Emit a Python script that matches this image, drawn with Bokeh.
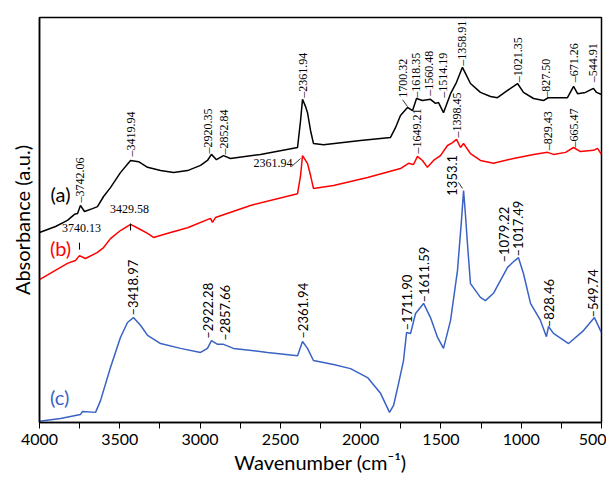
import numpy as np
from bokeh.plotting import figure
from bokeh.models import FixedTicker
from bokeh.core.properties import value
from bokeh.embed import file_html
from bokeh.resources import INLINE

# ---- spectra (wavenumber cm-1, absorbance a.u.) ----
wn_a = [4000, 3900, 3826, 3782, 3763, 3745, 3720, 3670, 3639, 3601, 3558, 3496, 3433, 3383, 3327,
        3246, 3165, 3078, 2997, 2954, 2929, 2898, 2854, 2811, 2624, 2393, 2374, 2362, 2343, 2331,
        2312, 2294, 2231, 2001, 1814, 1783, 1752, 1708, 1677, 1652, 1615, 1565, 1534, 1515, 1484,
        1440, 1403, 1366, 1341, 1316, 1254, 1191, 1148, 1085, 1023, 986, 923, 861, 830, 755, 712,
        674, 649, 600, 550, 531, 500]
abs_a = [0.469, 0.484, 0.499, 0.514, 0.516, 0.536, 0.521, 0.528, 0.533, 0.558, 0.580, 0.617, 0.647,
         0.644, 0.630, 0.622, 0.617, 0.622, 0.635, 0.647, 0.662, 0.649, 0.659, 0.652, 0.662, 0.679,
         0.746, 0.798, 0.780, 0.765, 0.721, 0.689, 0.686, 0.696, 0.704, 0.728, 0.758, 0.778, 0.770,
         0.800, 0.795, 0.798, 0.788, 0.790, 0.765, 0.812, 0.840, 0.877, 0.857, 0.837, 0.815, 0.805,
         0.802, 0.820, 0.837, 0.815, 0.800, 0.795, 0.802, 0.802, 0.802, 0.830, 0.812, 0.815, 0.825,
         0.815, 0.810]

wn_b = [4000, 3826, 3776, 3751, 3714, 3639, 3601, 3558, 3496, 3433, 3383, 3327, 3290, 3184, 3078,
        2935, 2923, 2904, 2686, 2393, 2374, 2362, 2343, 2331, 2312, 2294, 2169, 1957, 1752, 1702,
        1671, 1646, 1615, 1584, 1546, 1503, 1459, 1428, 1403, 1378, 1359, 1316, 1254, 1173, 1048,
        923, 836, 799, 724, 674, 631, 550, 525, 500]
abs_b = [0.353, 0.393, 0.400, 0.412, 0.405, 0.420, 0.432, 0.454, 0.474, 0.489, 0.479, 0.467, 0.457,
         0.469, 0.481, 0.504, 0.494, 0.506, 0.536, 0.565, 0.610, 0.659, 0.647, 0.640, 0.610, 0.578,
         0.585, 0.605, 0.627, 0.640, 0.637, 0.657, 0.647, 0.630, 0.647, 0.659, 0.684, 0.691, 0.699,
         0.679, 0.689, 0.664, 0.647, 0.640, 0.652, 0.662, 0.667, 0.662, 0.667, 0.679, 0.669, 0.672,
         0.677, 0.662]

wn_c = [4000, 3869, 3745, 3732, 3651, 3620, 3558, 3496, 3452, 3415, 3371, 3327, 3246, 3122, 2997,
        2954, 2929, 2891, 2854, 2792, 2580, 2393, 2362, 2331, 2294, 2169, 2063, 1957, 1876, 1820,
        1795, 1764, 1733, 1714, 1689, 1658, 1608, 1565, 1521, 1484, 1440, 1397, 1372, 1359, 1347,
        1334, 1316, 1254, 1223, 1173, 1085, 1054, 1017, 986, 942, 880, 843, 830, 799, 705, 612,
        544, 500]
abs_c = [0.003, 0.010, 0.020, 0.027, 0.025, 0.054, 0.136, 0.210, 0.247, 0.259, 0.240, 0.215, 0.195,
         0.183, 0.173, 0.183, 0.202, 0.193, 0.193, 0.183, 0.173, 0.165, 0.200, 0.183, 0.153, 0.143,
         0.133, 0.111, 0.072, 0.025, 0.042, 0.096, 0.153, 0.222, 0.220, 0.269, 0.294, 0.259, 0.210,
         0.183, 0.252, 0.375, 0.499, 0.573, 0.511, 0.437, 0.343, 0.309, 0.301, 0.319, 0.383, 0.395,
         0.407, 0.368, 0.294, 0.252, 0.212, 0.237, 0.220, 0.195, 0.227, 0.259, 0.222]

# ---- peak labels ----
lab_a_text = ["3742.06", "3419.94", "2920.35", "2852.84", "2361.94", "1618.35", "1560.48",
              "1514.19", "1358.91", "1021.35", "827.50", "671.26", "544.91"]
lab_a_x = [3745, 3433, 2948, 2848, 2362, 1658, 1577, 1490, 1366, 1023, 843, 674, 550]
lab_a_y = [0.543, 0.657, 0.664, 0.662, 0.802, 0.802, 0.807, 0.802, 0.881, 0.840, 0.802, 0.840, 0.840]
lab_a_slant = ["1700.32"]
lab_a_slant_x = [1739]
lab_a_slant_y = [0.802]

lab_b_text = ["1649.21", "1398.45", "829.43", "665.47"]
lab_b_x = [1646, 1403, 836, 674]
lab_b_y = [0.664, 0.704, 0.672, 0.679]
lab_bh_text = ["3740.13", "3429.58"]
lab_bh_x = [3738, 3439]
lab_bh_y = [0.481, 0.528]
lab_bs_text = ["2361.94"]
lab_bs_x = [2424]
lab_bs_y = [0.640]

lab_c_text = ["3418.97", "2922.28", "2857.66", "2361.94", "1711.90", "1611.59", "1079.22",
              "1017.49", "828.46", "549.74"]
lab_c_x = [3415, 2948, 2842, 2362, 1714, 1608, 1110, 1023, 824, 556]
lab_c_y = [0.264, 0.207, 0.202, 0.207, 0.227, 0.296, 0.395, 0.410, 0.235, 0.259]
lab_cs_text = ["1353.1"]
lab_cs_x = [1428]
lab_cs_y = [0.560]

series_names = ["(a)", "(b)", "(c)"]
series_x = [3869, 3869, 3875]
series_y = [0.565, 0.432, 0.062]

x_major = [4000, 3500, 3000, 2500, 2000, 1500, 1000, 500]
x_minor = [3750, 3250, 2750, 2250, 1750, 1250, 750]

BLACK = "#000000"
RED = "#ff0000"
BLUE = "#3a62c4"
SERIF = value("Liberation Serif")
SANS = value("Lato")

p = figure(width=606, height=477, x_range=(4000, 500), y_range=(0, 1),
           output_backend="svg", toolbar_location=None,
           min_border_left=39, min_border_top=17, min_border_right=5, min_border_bottom=55)
p.background_fill_color = "white"
p.border_fill_color = "white"
p.xgrid.grid_line_color = None
p.ygrid.grid_line_color = None
p.outline_line_color = "#000000"
p.outline_line_width = 1.5

p.xaxis.ticker = FixedTicker(ticks=x_major, minor_ticks=x_minor)
p.xaxis.major_tick_in = 0
p.xaxis.major_tick_out = 6
p.xaxis.minor_tick_in = 0
p.xaxis.minor_tick_out = 6
p.xaxis.major_tick_line_color = "#000000"
p.xaxis.minor_tick_line_color = "#000000"
p.xaxis.axis_line_width = 1.5
p.xaxis.major_label_text_font = "Lato"
p.xaxis.major_label_text_font_size = "16px"
p.xaxis.major_label_text_color = "#000000"
p.xaxis.major_label_standoff = 5
p.xaxis.axis_label = "Wavenumber (cm\u207b\u00b9)"
p.xaxis.axis_label_text_font = "Lato"
p.xaxis.axis_label_text_font_size = "20px"
p.xaxis.axis_label_text_font_style = "normal"
p.xaxis.axis_label_text_color = "#000000"
p.xaxis.axis_label_standoff = 2

p.yaxis.ticker = FixedTicker(ticks=[])
p.yaxis.major_tick_out = 0
p.yaxis.minor_tick_out = 0
p.yaxis.axis_line_width = 1.5
p.yaxis.major_label_text_font_size = "0px"
p.yaxis.axis_label = "Absorbance (a.u.)"
p.yaxis.axis_label_text_font = "Lato"
p.yaxis.axis_label_text_font_size = "20px"
p.yaxis.axis_label_text_font_style = "normal"
p.yaxis.axis_label_text_color = "#000000"
p.yaxis.axis_label_standoff = 6

p.line(wn_a, abs_a, line_color=BLACK, line_width=1.5)
p.line(wn_b, abs_b, line_color=RED, line_width=1.5)
p.line(wn_c, abs_c, line_color=BLUE, line_width=1.5)

# vertical labels with dash leader
p.text(x=lab_a_x, y=lab_a_y, text=["\u2013" + t for t in lab_a_text], angle=np.pi / 2,
       text_font=SERIF, text_font_size="12px", text_align="left", text_baseline="middle",
       text_color=BLACK)
p.text(x=lab_b_x, y=lab_b_y, text=["\u2013" + t for t in lab_b_text], angle=np.pi / 2,
       text_font=SERIF, text_font_size="12px", text_align="left", text_baseline="middle",
       text_color=BLACK)
p.text(x=lab_c_x, y=lab_c_y, text=["\u2013" + t for t in lab_c_text], angle=np.pi / 2,
       text_font=SANS, text_font_size="13px", text_align="left", text_baseline="middle",
       text_color=BLACK)

# labels with slanted leaders
p.text(x=lab_a_slant_x, y=lab_a_slant_y, text=lab_a_slant, angle=np.pi / 2,
       text_font=SERIF, text_font_size="12px", text_align="left", text_baseline="middle",
       text_color=BLACK)
p.segment(x0=lab_a_slant_x, y0=[v - 0.005 for v in lab_a_slant_y],
          x1=[x - 31 for x in lab_a_slant_x], y1=[v - 0.022 for v in lab_a_slant_y],
          line_color=BLACK, line_width=0.8)
p.text(x=lab_cs_x, y=lab_cs_y, text=lab_cs_text, angle=np.pi / 2,
       text_font=SANS, text_font_size="13px", text_align="left", text_baseline="middle",
       text_color=BLACK)
p.segment(x0=[x - 37 for x in lab_cs_x], y0=[v + 0.033 for v in lab_cs_y],
          x1=[x - 62 for x in lab_cs_x], y1=[v + 0.018 for v in lab_cs_y],
          line_color=BLACK, line_width=0.8)

# horizontal red-curve labels
tick_x = [lab_bh_x[0] + 13, lab_bh_x[1] - 6]
p.text(x=lab_bh_x, y=lab_bh_y, text=lab_bh_text, text_font=SERIF, text_font_size="12px",
       text_align="center", text_baseline="middle", text_color=BLACK)
p.segment(x0=tick_x, y0=[v - 0.037 for v in lab_bh_y], x1=tick_x,
          y1=[v - 0.054 for v in lab_bh_y], line_color=BLACK, line_width=1)
p.text(x=lab_bs_x, y=lab_bs_y, text=lab_bs_text, text_font=SERIF, text_font_size="12px",
       text_align="right", text_baseline="middle", text_color=BLACK)
p.segment(x0=[x + 6 for x in lab_bs_x], y0=[v - 0.008 for v in lab_bs_y],
          x1=[x - 50 for x in lab_bs_x], y1=[v + 0.012 for v in lab_bs_y],
          line_color=BLACK, line_width=0.8)

# series names
p.text(x=series_x, y=series_y, text=series_names, text_font=SANS, text_font_size="20px",
       text_align="center", text_baseline="middle", text_color=[BLACK, RED, BLUE])

open("out.html", "w").write(file_html(p, INLINE))
